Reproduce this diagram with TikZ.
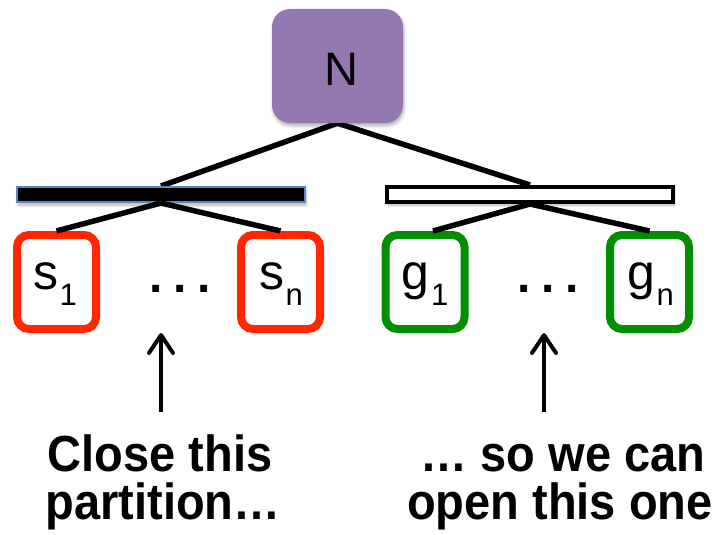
\documentclass[tikz,border=0pt]{standalone}
\usepackage{fontspec}
\usepackage{graphicx}
\setmainfont{Liberation Sans}
\usetikzlibrary{arrows.meta,shadows.blur}
\pgfdeclarelayer{background}
\pgfsetlayers{background,main}

\definecolor{nodepurple}{RGB}{148,121,176}
\definecolor{closedred}{RGB}{255,38,0}
\definecolor{opengreen}{RGB}{0,143,0}
\definecolor{barblue}{RGB}{91,135,192}

% letter with a lowered subscript
\newcommand{\subl}[2]{#1\kern1.5pt\raisebox{-16pt}{\fontsize{31}{31}\selectfont #2}}
% text stretched a little in height
\newcommand{\sy}[1]{\scalebox{1}[1.08]{#1}}

\tikzset{
  softshadow/.style={blur shadow={shadow xshift=1pt, shadow yshift=-3pt,
      shadow blur radius=3pt, shadow opacity=30}},
  rootbox/.style={rectangle, rounded corners=18pt, fill=nodepurple,
      minimum width=131pt, minimum height=114pt, inner sep=0pt, softshadow},
  closedbar/.style={rectangle, fill=black, draw=barblue, line width=2pt,
      minimum width=288pt, minimum height=15pt, inner sep=0pt, softshadow},
  openbar/.style={rectangle, fill=white, draw=black, line width=4pt,
      minimum width=286pt, minimum height=15pt, inner sep=0pt, softshadow},
  childbox/.style={rectangle, rounded corners=12pt, fill=white, line width=8pt,
      minimum width=79pt, minimum height=94pt, inner sep=0pt, softshadow},
  closedchild/.style={childbox, draw=closedred},
  openchild/.style={childbox, draw=opengreen},
  letter/.style={anchor=base, inner sep=0pt, font=\fontsize{50}{50}\selectfont},
  caption/.style={anchor=base, inner sep=0pt, font=\fontsize{47}{47}\selectfont\bfseries},
  treeline/.style={line width=5.5pt, line join=miter},
  pointer/.style={line width=4pt, -{Straight Barb[length=18pt, width=24pt, round]}}
}

\begin{document}
\begin{tikzpicture}[x=1pt, y=-1pt]
  \useasboundingbox (0,0) rectangle (717,535);

  % tree boxes
  \node[rootbox] (root) at (337.5,66) {};
  \node[closedbar] (lbar) at (161,194.5) {};
  \node[openbar] (rbar) at (530,194.5) {};
  \node[closedchild] (s1) at (56.5,282) {};
  \node[closedchild] (sn) at (280.5,282) {};
  \node[openchild] (g1) at (425,282) {};
  \node[openchild] (gn) at (649.5,282) {};

  % labels
  \node[letter, font=\fontsize{47}{47}\selectfont] (tN) at (341,85) {N};
  \node[letter] (ts1) at (55,289) {\subl{s}{1}};
  \node[letter] (tsn) at (281,289) {\subl{s}{n}};
  \node[letter] (tg1) at (425,289) {\subl{g}{1}};
  \node[letter] (tgn) at (650.5,289) {\subl{g}{n}};
  \node[letter, font=\fontsize{48}{48}\selectfont\bfseries] (sdots) at (180,292)
      {.\hspace{10.7pt}.\hspace{10.7pt}.};
  \node[letter, font=\fontsize{48}{48}\selectfont\bfseries] (gdots) at (548,292)
      {.\hspace{10.7pt}.\hspace{10.7pt}.};

  % root to partitions, behind the bars
  \begin{pgfonlayer}{background}
    \draw[treeline] (lbar.north) -- (root.south) -- (rbar.north);
  \end{pgfonlayer}

  % partitions to children
  \draw[treeline] (lbar.south) -- (s1.north);
  \draw[treeline] (lbar.south) -- (sn.north);
  \draw[treeline] (rbar.south) -- ([xshift=8pt]g1.north);
  \draw[treeline] (rbar.south) -- (gn.north);

  % pointers
  \coordinate (p1tail) at (161,412);
  \coordinate (p1head) at (161,333);
  \coordinate (p2tail) at (544,412);
  \coordinate (p2head) at (544,333);
  \draw[pointer] (p1tail) -- (p1head);
  \draw[pointer] (p2tail) -- (p2head);

  % captions
  \node[caption] (c1a) at (160,471) {\sy{Close this}};
  \node[caption] (c1b) at (163,519) {\sy{partition…}};
  \node[caption] (c2a) at (563,471) {\sy{… so we can}};
  \node[caption] (c2b) at (560,519) {\sy{open this one}};
\end{tikzpicture}
\end{document}
